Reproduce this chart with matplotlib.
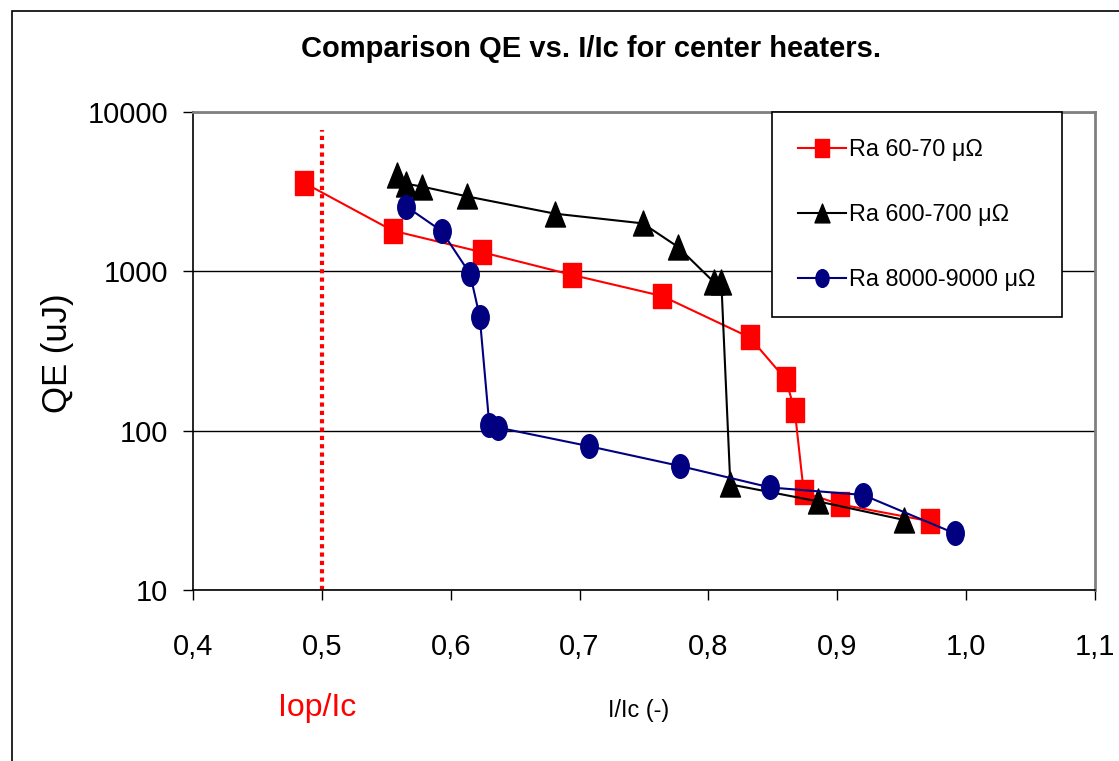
import numpy as np
import matplotlib
matplotlib.use("Agg")
import matplotlib.pyplot as plt
from matplotlib.path import Path
from matplotlib.patches import Rectangle
from matplotlib import font_manager

# measured quench energy vs. normalised current, three contact resistances
red_x = [0.486, 0.555, 0.624, 0.694, 0.764, 0.832, 0.860, 0.867, 0.874, 0.902, 0.972]
red_y = [3600, 1800, 1320, 950, 700, 385, 210, 134, 41, 34.5, 27]

black_x = [0.558, 0.565, 0.578, 0.613, 0.681, 0.749, 0.776, 0.804, 0.810, 0.817, 0.885, 0.952]
black_y = [4000, 3550, 3400, 2950, 2300, 2000, 1430, 860, 860, 46, 36, 27.5]

blue_x = [0.5655, 0.593, 0.615, 0.6225, 0.630, 0.637, 0.707, 0.778, 0.848, 0.920, 0.991]
blue_y = [2550, 1790, 965, 520, 108, 104.5, 80, 60, 44, 39.5, 22.7]

series_labels = ["Ra 60-70 \u03bc\u03a9", "Ra 600-700 \u03bc\u03a9", "Ra 8000-9000 \u03bc\u03a9"]

iop_x = 0.5
iop_y = [10, 7700]

x_ticks = [0.4, 0.5, 0.6, 0.7, 0.8, 0.9, 1.0, 1.1]
x_ticklabels = ["0,4", "0,5", "0,6", "0,7", "0,8", "0,9", "1,0", "1,1"]
y_ticks = [10, 100, 1000, 10000]
y_ticklabels = ["10", "100", "1000", "10000"]

names = {f.name for f in font_manager.fontManager.ttflist}
have_narrow = "Liberation Sans Narrow" in names
narrow = "Liberation Sans Narrow" if have_narrow else "Liberation Sans"
regular = "Liberation Sans"
# the regular face is wider, so shrink it a bit when no narrow face exists
k = 1.0 if have_narrow else 0.84

# slightly tall markers
sq = 0.78
square = Path([(-0.5 * sq, -0.5), (0.5 * sq, -0.5), (0.5 * sq, 0.5), (-0.5 * sq, 0.5), (-0.5 * sq, -0.5)],
              [Path.MOVETO, Path.LINETO, Path.LINETO, Path.LINETO, Path.CLOSEPOLY])
triangle = Path([(-0.5 * 0.8, -0.5), (0.5 * 0.8, -0.5), (0, 0.5), (-0.5 * 0.8, -0.5)],
                [Path.MOVETO, Path.LINETO, Path.LINETO, Path.CLOSEPOLY])
circ = Path.unit_circle()
ellipse = Path(circ.vertices * np.array([0.74, 1.0]), circ.codes)

fig = plt.figure(figsize=(11.19, 7.61), dpi=100)
W, H = 1119, 761

# outer chart frame
fig.patches.append(Rectangle((12 / W, -0.05), 1.2, 1 - 11 / H + 0.05, transform=fig.transFigure,
                             fill=False, edgecolor="black", linewidth=1.2))

ax = fig.add_axes([193 / W, 1 - 590 / H, (1095 - 193) / W, (590 - 112) / H])
ax.set_yscale("log")
ax.set_xlim(0.4, 1.1)
ax.set_ylim(10, 10000)

ax.plot(red_x, red_y, color="#FF0000", lw=1.5, marker=square, markersize=17,
        markerfacecolor="#FF0000", markeredgecolor="#FF0000", label=series_labels[0], zorder=3)
ax.plot(black_x, black_y, color="black", lw=1.5, marker=triangle, markersize=18,
        markerfacecolor="black", markeredgecolor="black", label=series_labels[1], zorder=3)
ax.plot(blue_x, blue_y, color="#000080", lw=1.5, marker=ellipse, markersize=17,
        markerfacecolor="#000080", markeredgecolor="#000080", label=series_labels[2], zorder=3)

# operating current marker
ax.plot([iop_x, iop_x], iop_y, color="#FF0000", lw=3, linestyle=(0, (1, 1)), zorder=2)

ax.yaxis.set_major_locator(matplotlib.ticker.FixedLocator(y_ticks))
ax.yaxis.set_minor_locator(matplotlib.ticker.NullLocator())
ax.set_yticklabels(y_ticklabels)
ax.set_xticks(x_ticks)
ax.set_xticklabels(x_ticklabels)
ax.grid(axis="y", which="major", color="black", lw=1)

for lab in ax.get_xticklabels() + ax.get_yticklabels():
    lab.set_family(narrow)
    lab.set_fontsize(25 * k)
ax.tick_params(axis="both", direction="out", length=7, width=1, color="black")
ax.tick_params(axis="x", pad=24)
ax.tick_params(axis="y", pad=11)

for side in ["left", "bottom"]:
    ax.spines[side].set_color("black")
    ax.spines[side].set_linewidth(1.2)
for side in ["top", "right"]:
    ax.spines[side].set_color("#808080")
    ax.spines[side].set_linewidth(2)

leg = ax.legend(loc="upper left", bbox_to_anchor=((772 - 193) / 902, 1.0), borderaxespad=0,
                prop={"family": narrow, "size": 20 * k}, frameon=True, fancybox=False,
                edgecolor="black", framealpha=1, handlelength=2.05, handletextpad=0.15,
                labelspacing=1.8, borderpad=1.12, markerscale=0.75)
leg.get_frame().set_linewidth(1.2)

fig.text(591 / W, 1 - 49 / H, "Comparison QE vs. I/Ic for center heaters.", ha="center", va="center",
         family=narrow, fontweight="bold", fontsize=25 * k)
fig.text(58 / W, 1 - 353 / H, "QE (uJ)", rotation=90, ha="center", va="center",
         family=regular, fontsize=25)
fig.text(639 / W, 1 - 710 / H, "I/Ic (-)", ha="center", va="center", family=narrow, fontsize=20 * k)
fig.text(317 / W, 1 - 708 / H, "Iop/Ic", ha="center", va="center", family=regular, fontsize=23,
         color="#FF0000")

fig.savefig("out.png", dpi=100)
